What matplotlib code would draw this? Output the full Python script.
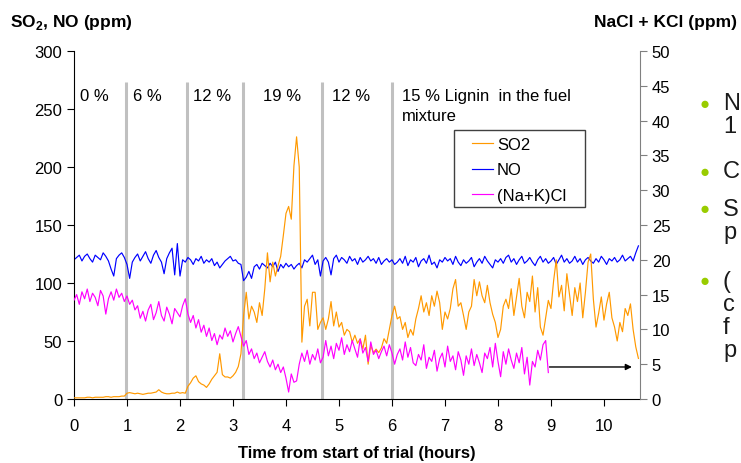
import numpy as np
import matplotlib
matplotlib.use("Agg")
import matplotlib.pyplot as plt
from matplotlib.patches import Rectangle

plt.rcParams['font.family'] = ['Liberation Sans', 'DejaVu Sans']
plt.rcParams['mathtext.fontset'] = 'custom'
plt.rcParams['mathtext.rm'] = 'Liberation Sans'
plt.rcParams['mathtext.bf'] = 'Liberation Sans:bold'

step = 0.05  # hours between readings

so2_ppm = [1, 1, 1, 1, 1, 1.5, 1.5, 1, 1.5, 1.5, 1.5, 1.5, 2, 2, 1.5, 2, 2, 2, 2.5, 2.5,
           5, 5.5, 5, 4.5, 5, 4.5, 4, 4.5, 5, 5, 5.5, 6, 8, 6, 5, 4.5, 4.5, 5, 5, 6, 5, 5.5, 5,
           11, 14, 18, 20, 15, 13, 12, 10, 13, 17, 20, 23, 39, 21, 19, 19, 18, 20, 23, 28, 39,
           72, 92, 69, 80, 75, 66, 83, 72, 95, 126, 101, 118, 106, 115, 123, 141, 160, 166, 155, 201,
           226, 200, 49, 80, 86, 63, 92, 92, 60, 66,
           70, 60, 69, 84, 63, 75, 62, 66, 55, 60, 58, 49, 55, 48, 52, 43,
           55, 30, 46, 40, 43, 40, 44, 52, 48, 60, 72,
           80, 69, 71, 60, 66, 53, 60, 55, 69, 78, 89, 75, 83, 72, 89, 80, 93, 83, 60, 75,
           69, 78, 95, 103, 80, 83, 72, 60, 75, 80, 103, 89, 101, 89, 83, 98, 83, 73, 66, 53,
           60, 80, 86, 78,
           95, 72, 88, 104, 80, 70, 92, 84, 106, 75, 96, 62, 55, 70, 85, 78, 102, 120, 88, 98,
           76, 108, 90, 72, 96, 84, 100, 70, 92, 118, 125, 86, 62, 74, 88, 68, 82, 92, 70, 62,
           50, 66, 58, 78, 72, 82, 60, 45, 35]

no_ppm = [120, 122, 124, 119, 123, 125, 121, 118, 124, 122,
          120, 126, 123, 119, 112, 106, 121, 124, 126, 122,
          116, 104, 118, 122, 125, 119, 123, 127, 121, 117,
          124, 128, 122, 118, 108, 121, 126, 130, 107, 134,
          106, 120, 118, 122, 120, 116, 121, 119, 123, 117,
          120, 118, 121, 115, 118, 113, 116, 119, 121, 123,
          119, 120, 117, 116, 102, 105, 110, 104, 114, 116,
          112, 117, 115, 113, 117, 114, 118, 110, 116, 113,
          117, 114, 116, 112, 115, 117, 113, 120, 118, 121,
          124, 116, 120, 106, 119, 122, 118, 107, 121, 124,
          118, 122, 120, 117, 123, 119, 121, 116, 122, 118,
          120, 123, 119, 121, 117, 122, 116, 119, 121, 118,
          120, 116, 118, 121, 117, 123, 115, 120, 118, 122,
          114, 119, 121, 117, 124, 116, 118, 113, 120, 118,
          122, 119, 121, 116, 123, 118, 115, 120, 117, 119,
          122, 114, 118, 121, 117, 123, 119, 116, 113, 120,
          118, 121, 117, 122, 124, 118, 121, 116, 120, 123,
          117, 119, 122, 118, 115, 120, 123, 118, 121, 117,
          119, 122, 116, 120, 124, 118, 121, 117, 119, 123,
          118, 121, 116, 120, 122, 119, 117, 121, 118, 123,
          120, 116, 121, 119, 122, 118, 120, 124, 119, 121,
          123, 119, 126, 132]

chloride_ppm = [14.2, 15.0, 13.6, 15.4, 14.4, 15.8, 14.0, 15.2, 14.6, 13.4,
                15.6, 14.8, 12.2, 14.4, 15.4, 14.2, 15.8, 14.6, 15.2, 14.0,
                14.8, 13.6, 14.2, 12.8, 13.4, 11.6, 12.6, 11.2, 12.8, 13.6,
                11.4, 12.4, 14.0, 12.0, 11.2, 13.2, 12.2, 10.8, 13.0, 12.4,
                11.8, 13.4, 14.4, 12.2, 11.0, 12.0, 10.2, 11.4, 9.6, 10.6,
                9.0, 10.2, 8.4, 9.4, 7.8, 9.2, 8.6, 10.2, 9.0, 9.8,
                8.2, 9.4, 10.4, 9.0, 7.6, 8.4, 6.4, 7.2, 5.8, 6.6,
                5.2, 6.0, 6.8, 5.4, 4.6, 5.6, 4.2, 5.0, 3.8, 4.6,
                3.0, 1.0, 3.6, 2.4, 2.6, 5.0, 6.6, 5.4, 7.0, 5.0,
                6.4, 5.6, 7.2, 5.2, 6.0, 8.4, 6.2, 7.6, 5.8, 8.0,
                7.0, 8.8, 6.4, 7.8, 6.8, 8.4, 7.2, 6.0, 8.6, 6.6,
                7.4, 5.4, 8.2, 6.4, 7.0, 5.8, 6.8, 7.6, 6.2, 7.8,
                6.6, 5.0, 6.4, 7.2, 5.6, 8.2, 6.0, 7.4, 5.2, 4.8,
                6.4, 5.6, 7.8, 4.4, 6.0, 5.4, 7.0, 4.0, 5.8, 6.6,
                4.6, 7.6, 5.4, 6.2, 4.2, 6.8, 5.6, 3.4, 6.2, 5.0,
                7.2, 4.8, 6.4, 5.2, 3.8, 6.6, 5.8, 7.4, 4.6, 8.0,
                5.4, 3.2, 6.8, 5.0, 7.2, 5.6, 4.4, 6.6, 5.2, 7.4,
                3.6, 6.0, 2.0, 5.4, 4.6, 7.0, 5.6, 7.8, 8.4, 3.8]

# fuel mixture changes (hours) and labels
phase_starts = [0.98, 2.13, 3.19, 4.68, 6.0]
phase_labels = ['0 %', '6 %', '12 %', '19 %', '12 %', '15 % Lignin  in the fuel\nmixture']
label_pos = [0.11, 1.11, 2.25, 3.57, 4.87, 6.19]

# slide bullets, cut off at the right edge as in the original
bullets = [['N', '1'], ['C'], ['S', 'p'], ['(', 'c', 'f', 'p']]
bullet_y = [104, 172, 210, 282]

t_so2 = np.arange(len(so2_ppm)) * step
t_no = np.arange(len(no_ppm)) * step
t_cl = np.arange(len(chloride_ppm)) * step

fig = plt.figure(figsize=(7.41, 4.64), dpi=100)
ax = fig.add_axes([74 / 741, 64 / 464, 566 / 741, 348 / 464])
ax2 = ax.twinx()

ax.vlines(phase_starts, 0, 273, color='#c0c0c0', lw=2.2, zorder=1)
l1, = ax.plot(t_so2, so2_ppm, color='#ff9900', lw=0.85, zorder=3, label='SO2')
l2, = ax.plot(t_no, no_ppm, color='#0000ff', lw=0.85, zorder=2, label='NO')
l3, = ax2.plot(t_cl, chloride_ppm, color='#ff00ff', lw=0.85, label='(Na+K)Cl')

for x, s in zip(label_pos, phase_labels):
    ax.text(x, 268, s, fontsize=12, va='top', ha='left', linespacing=1.4)

ax2.annotate('', xy=(10.58, 4.6), xytext=(8.92, 4.6),
             arrowprops=dict(arrowstyle='-|>', color='black', lw=1, mutation_scale=9))

ax.set_xlim(0, 10.68)
ax.set_ylim(0, 300)
ax2.set_ylim(0, 50)
ax.set_xticks(range(0, 11))
ax.set_yticks(range(0, 301, 50))
ax2.set_yticks(range(0, 51, 5))
ax.tick_params(labelsize=12, length=5, direction='out')
ax.tick_params(axis='x', pad=9)
ax2.tick_params(labelsize=12, length=5, direction='out', color='#808080')

for a in (ax, ax2):
    a.spines['top'].set_visible(False)
ax2.spines['left'].set_visible(False)
ax2.spines['bottom'].set_visible(False)
ax.spines['right'].set_visible(False)
ax2.spines['right'].set_color('#808080')

ax.set_xlabel('Time from start of trial (hours)', fontsize=12, fontweight='bold', labelpad=8)
fig.text(10 / 741, 1 - 22 / 464, r'SO$_\mathbf{2}$, NO (ppm)', fontsize=12.5,
         fontweight='bold', va='center', ha='left')
fig.text(737 / 741, 1 - 22 / 464, 'NaCl + KCl (ppm)', fontsize=12.5,
         fontweight='bold', va='center', ha='right')

frame = Rectangle((454 / 741, 1 - 208 / 464), 131 / 741, 77 / 464, transform=fig.transFigure,
                  facecolor='white', edgecolor='#404040', lw=1, zorder=5, clip_on=False)
ax2.add_patch(frame)
leg = ax2.legend(handles=[l1, l2, l3], loc='upper left', fontsize=12, frameon=False,
                 bbox_to_anchor=(472 / 741, 1 - 138 / 464), bbox_transform=fig.transFigure,
                 borderaxespad=0, borderpad=0, handlelength=1.25, handletextpad=0.25,
                 labelspacing=0.62)
leg.set_zorder(6)

for y, lines in zip(bullet_y, bullets):
    fig.text(705 / 741, 1 - y / 464, '\u25cf', color='#99cc00', fontsize=12, ha='center', va='center')
    for i, s in enumerate(lines):
        fig.text(723 / 741, 1 - (y + 23 * i) / 464, s, fontsize=17, ha='left', va='center',
                 color='#1a1a1a')

fig.savefig('out.png', dpi=100)
